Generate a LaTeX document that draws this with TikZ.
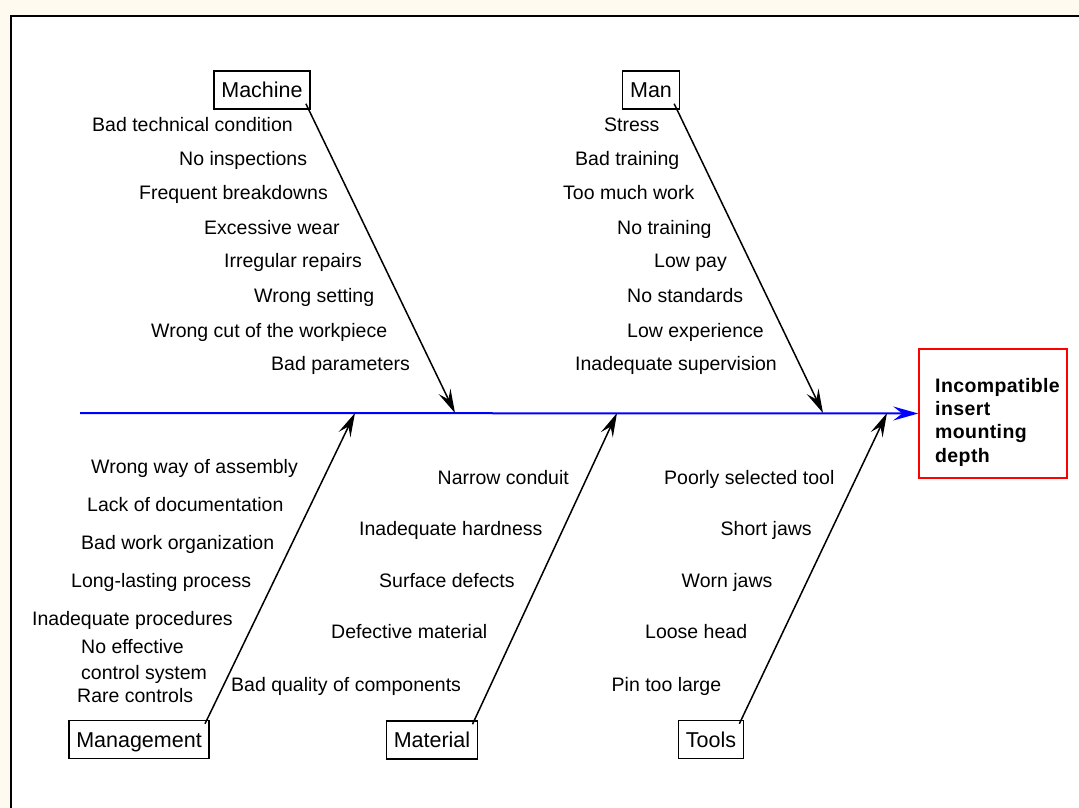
\documentclass[tikz,border=0pt]{standalone}
\usepackage{fontspec}
\setmainfont{Liberation Sans}
\newfontfamily\headfont[LetterSpace=2]{Liberation Sans}
\usepackage{xcolor}
\usepackage{tikz}
\usetikzlibrary{calc,arrows.meta}

\definecolor{paper}{RGB}{255,250,240}

\begin{document}
\begin{tikzpicture}[x=1pt, y=-1pt,
    cause/.style={draw, line width=1.5pt, font=\fontsize{21.5}{24}\selectfont,
      inner xsep=7.5pt, inner ysep=0pt, minimum height=38pt,
      text height=15.5pt, text depth=0pt},
    item/.style={anchor=base west, inner sep=0pt, font=\fontsize{19.5}{23}\selectfont},
    bone/.style={line width=1.5pt, -{Stealth[length=24pt, width=13pt, inset=9pt]}},
    spine/.style={blue, line width=2pt, -{Stealth[length=25pt, width=14pt, inset=9pt]}},
    effect/.style={draw=red, line width=1.5pt, minimum width=148pt, minimum height=129pt},
    effecttext/.style={anchor=north west, inner sep=0pt, align=left,
      font=\headfont\bfseries\fontsize{19.5}{23.3}\selectfont}]

        \useasboundingbox (0,0) rectangle (1079,808);

        % page and frame
        \fill[paper] (0,0) rectangle (1079,808);
        \fill[white] (11,16) rectangle (1079,808);
        \draw[line width=2pt] (11,808) -- (11,16) -- (1079,16);

        % effect (head)
        \node[effect] (E) at (993,413.5) {};
        \node[effecttext] (ET) at (935,378) {Incompatible\\insert\\mounting\\depth};

        % spine
        \coordinate (S) at (80,413);
        \draw[spine] (S) -- (E.west);

        % points on the spine
        \coordinate (P1) at (455,413); % machine
        \coordinate (P2) at (823,413); % man
        \coordinate (Q1) at (355,413); % management
        \coordinate (Q2) at (617,413); % material
        \coordinate (Q3) at (887,413); % tools

        % causes
        \node[cause] (MC) at (262,90) {Machine};
        \node[cause] (MN) at (651,90) {Man};
        \node[cause] (MG) at (139,739.5) {Management};
        \node[cause] (MT) at (432,740) {Material};
        \node[cause] (TL) at (711,739.5) {Tools};

        % bones
        \draw[bone] ($(MC.south east)+(-5,-6)$) -- (P1);
        \draw[bone] ($(MN.south east)+(-6,-6)$) -- (P2);
        \draw[bone] ($(MG.north east)+(-5,4)$) -- (Q1);
        \draw[bone] ($(MT.north east)+(-6,4)$) -- (Q2);
        \draw[bone] ($(TL.north east)+(-5,4)$) -- (Q3);

        % machine
        \node[item] at (92,131) {Bad technical condition};
        \node[item] at (179,165) {No inspections};
        \node[item] at (139,199) {Frequent breakdowns};
        \node[item] at (204,234) {Excessive wear};
        \node[item] at (224,267) {Irregular repairs};
        \node[item] at (254,302) {Wrong setting};
        \node[item] at (151,337) {Wrong cut of the workpiece};
        \node[item] at (271,370) {Bad parameters};

        % man
        \node[item] at (604,131) {Stress};
        \node[item] at (575,165) {Bad training};
        \node[item] at (563,199) {Too much work};
        \node[item] at (617,234) {No training};
        \node[item] at (654,267) {Low pay};
        \node[item] at (627,302) {No standards};
        \node[item] at (627,337) {Low experience};
        \node[item] at (575,370) {Inadequate supervision};

        % management
        \node[item] at (91,473) {Wrong way of assembly};
        \node[item] at (87,511) {Lack of documentation};
        \node[item] at (81,549) {Bad work organization};
        \node[item] at (71,587.5) {Long-lasting process};
        \node[item] at (32,625) {Inadequate procedures};
        \node[item] at (81,653) {No effective};
        \node[item] at (81,679) {control system};
        \node[item] at (77,702) {Rare controls};

        % material
        \node[item] at (437.5,484.5) {Narrow conduit};
        \node[item] at (359,535.5) {Inadequate hardness};
        \node[item] at (379,587.5) {Surface defects};
        \node[item] at (331,638.5) {Defective material};
        \node[item] at (231,691.5) {Bad quality of components};

        % tools
        \node[item] at (664,484.5) {Poorly selected tool};
        \node[item] at (720.5,535.5) {Short jaws};
        \node[item] at (681.5,587.5) {Worn jaws};
        \node[item] at (645,638.5) {Loose head};
        \node[item] at (611.5,691.5) {Pin too large};

\end{tikzpicture}
\end{document}
